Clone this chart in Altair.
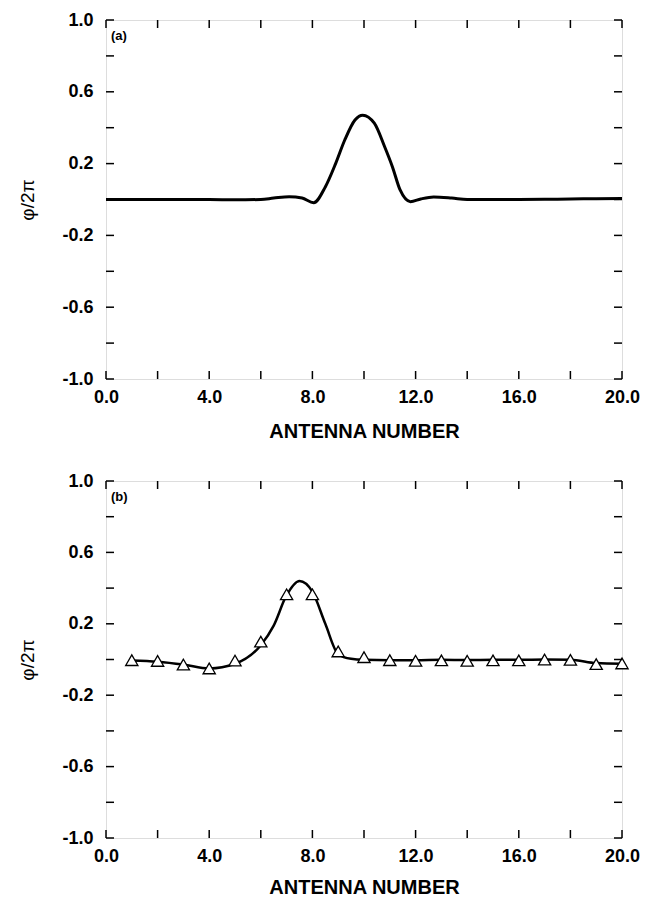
import altair as alt
import pandas as pd

# ---------------- data ----------------
# Panel (a): continuous phase profile
a_x = [0, 1, 2, 3, 4, 5, 6, 6.5, 7.1, 7.6, 8.05, 8.5, 8.9, 9.25, 9.65, 9.95,
       10.4, 10.8, 11.1, 11.4, 11.8, 12.2, 12.7, 13.4, 14, 15, 16, 17, 18, 19, 20]
a_phi = [0.0, 0.0, 0.0, 0.0, 0.0, -0.002, 0.0, 0.008, 0.016, 0.008, -0.018, 0.07,
         0.20, 0.33, 0.443, 0.47, 0.425, 0.294, 0.183, 0.053, -0.012, 0.003,
         0.014, 0.008, 0.0, 0.0, 0.0, 0.001, 0.003, 0.004, 0.006]

# Panel (b): curve and measured antennas (triangles)
b_line_x = [1, 2, 3, 4, 5, 6, 6.5, 7, 7.5, 8, 8.5, 9, 9.5, 10, 11, 12, 13, 14,
            15, 16, 17, 18, 19, 20]
b_line_phi = [-0.005, -0.012, -0.028, -0.05, -0.024, 0.08, 0.19, 0.36, 0.44,
              0.38, 0.2, 0.03, 0.004, -0.002, -0.004, -0.004, -0.002, -0.003,
              -0.002, -0.002, 0.0, -0.001, -0.02, -0.024]
b_ant = list(range(1, 21))
b_phi = [-0.004, -0.008, -0.028, -0.05, -0.006, 0.10, 0.365, 0.365, 0.045,
         0.013, -0.004, -0.007, -0.005, -0.007, -0.005, -0.005, 0.0, -0.002,
         -0.026, -0.022]

x_ticks = [0, 2, 4, 6, 8, 10, 12, 14, 16, 18, 20]
y_ticks = [-1.0, -0.8, -0.6, -0.4, -0.2, 0.0, 0.2, 0.4, 0.6, 0.8, 1.0]
x_labels = [0, 4, 8, 12, 16, 20]
y_labels = [1.0, 0.6, 0.2, -0.2, -0.6, -1.0]

W = 516
H_TOP, H_BOT = 359, 357
TICK = 8
FONT = "Liberation Sans"

xscale = alt.Scale(domain=[0, 20], nice=False, zero=False)
yscale = alt.Scale(domain=[-1, 1], nice=False, zero=False)

lab_expr = "(datum.value < 0 ? '-' : '') + format(abs(datum.value), '.1f')"


def x_axis(title_pad):
    return alt.Axis(values=x_labels, labelExpr=lab_expr, ticks=False, tickSize=0,
                    domain=False, grid=False, labelFont=FONT, labelFontSize=18,
                    labelFontWeight="bold", labelColor="black", labelPadding=9,
                    labelFlush=False, title="ANTENNA NUMBER", titleFont=FONT,
                    titleFontSize=20, titleFontWeight="bold", titleColor="black",
                    titlePadding=title_pad)


y_axis = alt.Axis(values=y_labels, labelExpr=lab_expr, ticks=False, tickSize=0,
                  domain=False, grid=False, labelFont=FONT, labelFontSize=18,
                  labelFontWeight="bold", labelColor="black", labelPadding=13,
                  title="\u03c6/2\u03c0", titleFont=FONT, titleFontSize=19,
                  titleFontWeight="normal", titleColor="black", titlePadding=24)

Y = alt.Y("y:Q", scale=yscale, axis=y_axis)

xt = pd.DataFrame({"x": x_ticks})
yt = pd.DataFrame({"y": y_ticks})


def ticks_layers(X, H):
    r = dict(color="black", strokeWidth=1.5)
    bot = alt.Chart(xt).mark_rule(**r).encode(
        x=X, y=alt.value(H), y2=alt.value(H - TICK))
    top = alt.Chart(xt).mark_rule(**r).encode(
        x=X, y=alt.value(0), y2=alt.value(TICK))
    left = alt.Chart(yt).mark_rule(**r).encode(
        y=Y, x=alt.value(0), x2=alt.value(TICK))
    right = alt.Chart(yt).mark_rule(**r).encode(
        y=Y, x=alt.value(W), x2=alt.value(W - TICK))
    return [bot, top, left, right]


def panel_label(txt):
    return alt.Chart(pd.DataFrame({"t": [txt]})).mark_text(
        align="left", baseline="middle", font=FONT, fontSize=13,
        fontWeight="bold", color="black").encode(
        text="t:N", x=alt.value(5), y=alt.value(16))


# ---- panel (a)
XA = alt.X("x:Q", scale=xscale, axis=x_axis(15))
da = pd.DataFrame({"x": a_x, "y": a_phi})
line_a = alt.Chart(da).mark_line(color="black", strokeWidth=3,
                                 interpolate="monotone").encode(x=XA, y=Y)
top_panel = alt.layer(line_a, *ticks_layers(XA, H_TOP),
                      panel_label("(a)")).properties(width=W, height=H_TOP)

# ---- panel (b)
XB = alt.X("x:Q", scale=xscale, axis=x_axis(12))
dbl = pd.DataFrame({"x": b_line_x, "y": b_line_phi})
dbp = pd.DataFrame({"x": b_ant, "y": b_phi})
line_b = alt.Chart(dbl).mark_line(color="black", strokeWidth=2.5,
                                  interpolate="monotone").encode(x=XB, y=Y)
pts_b = alt.Chart(dbp).mark_point(shape="triangle-up", size=150, filled=True,
                                  fill="white", stroke="black", strokeWidth=1.3,
                                  opacity=1, fillOpacity=1).encode(x=XB, y=Y)
bottom_panel = alt.layer(line_b, pts_b, *ticks_layers(XB, H_BOT),
                         panel_label("(b)")).properties(width=W, height=H_BOT)

chart = alt.vconcat(top_panel, bottom_panel, spacing=29).properties(
    padding={"left": 10, "top": 2, "right": 0, "bottom": 0}
).configure_view(stroke="black", strokeWidth=1.5).configure(background="white")

chart.save("out.html", embed_options={"renderer": "svg", "actions": False})
